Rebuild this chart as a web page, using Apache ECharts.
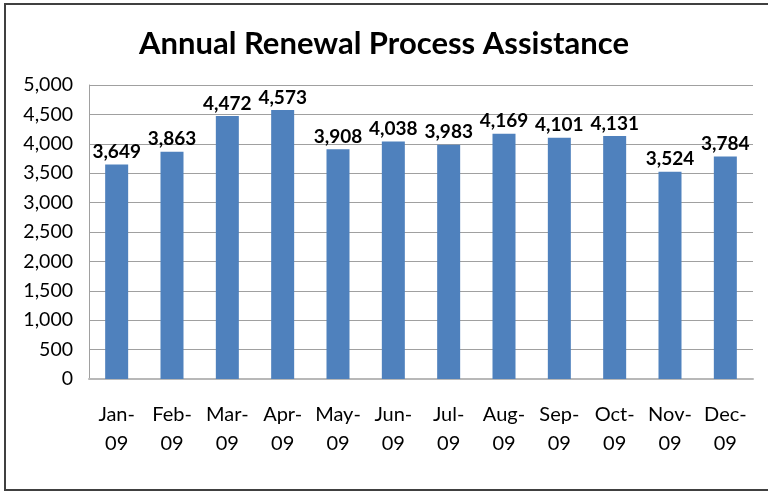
<!DOCTYPE html>
<html>
<head>
<meta charset="utf-8">
<script src="https://cdn.jsdelivr.net/npm/echarts@6/dist/echarts.min.js"></script>
<style>
  html, body { margin: 0; padding: 0; background: #fff; }
  #chart { width: 768px; height: 492px; }
</style>
</head>
<body>
<div id="chart"></div>
<script>
// months and counts
const months = ['Jan-\n09', 'Feb-\n09', 'Mar-\n09', 'Apr-\n09', 'May-\n09', 'Jun-\n09',
                'Jul-\n09', 'Aug-\n09', 'Sep-\n09', 'Oct-\n09', 'Nov-\n09', 'Dec-\n09']
const counts = [3649, 3863, 4472, 4573, 3908, 4038, 3983, 4169, 4101, 4131, 3524, 3784]

const font = 'Lato, "Open Sans", sans-serif'

let chart = echarts.init(document.getElementById('chart'))

let option = {
    animation: false,
    graphic: [{
        type: 'rect',
        shape: { x: 5, y: 4, width: 770, height: 486 },
        style: { fill: 'none', stroke: '#404040', lineWidth: 2 }
    }],
    title: {
        text: 'Annual Renewal Process Assistance',
        left: 'center',
        top: 23,
        textStyle: { fontFamily: font, fontSize: 31, fontWeight: 'bold', color: '#000' }
    },
    grid: { left: 89, right: 15, top: 85, bottom: 113 },
    xAxis: {
        type: 'category',
        data: months,
        axisTick: { show: false },
        axisLine: { lineStyle: { color: '#b8b8b8', width: 2 } },
        axisLabel: {
            interval: 0,
            hideOverlap: false,
            color: '#000', fontFamily: font, fontSize: 20, lineHeight: 29, margin: 21
        }
    },
    yAxis: {
        type: 'value',
        min: 0,
        max: 5000,
        interval: 500,
        axisLine: { show: true, lineStyle: { color: '#a0a0a0' } },
        axisTick: { show: false },
        splitLine: { lineStyle: { color: '#a0a0a0' } },
        axisLabel: {
            color: '#000', fontFamily: font, fontSize: 19.5, margin: 16,
            formatter: v => v.toLocaleString('en-US')
        }
    },
    series: [{
        type: 'bar',
        data: counts,
        barWidth: 23,
        itemStyle: { color: '#4f81bd' },
        label: {
            show: true,
            position: 'top',
            distance: 3,
            color: '#000',
            fontFamily: font,
            fontSize: 19,
            fontWeight: 'bold',
            formatter: p => p.value.toLocaleString('en-US')
        }
    }]
}

chart.setOption(option)
</script>
</body>
</html>
